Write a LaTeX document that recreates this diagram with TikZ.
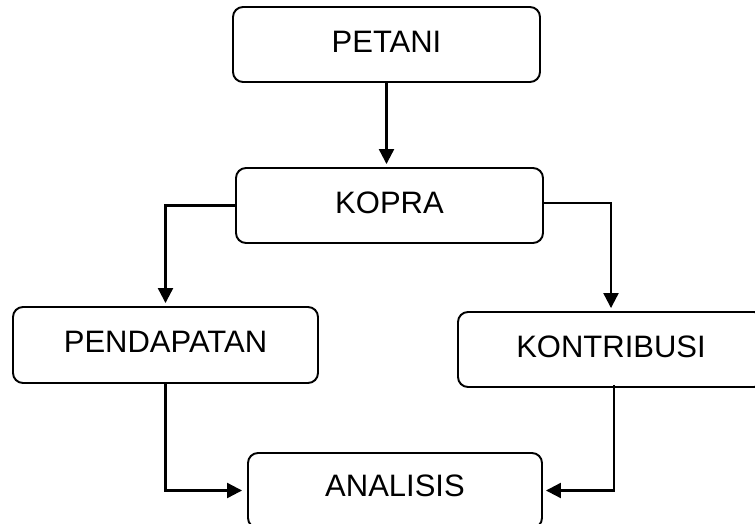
\documentclass[tikz,border=0pt]{standalone}
\usepackage{fontspec}
\setmainfont{Liberation Sans}
\usetikzlibrary{arrows.meta}
\begin{document}
\begin{tikzpicture}[x=1pt,y=-1pt,
  box/.style={draw, line width=1.9pt, rounded corners=10pt, minimum height=75pt,
    inner sep=0pt, text depth=6pt, font=\fontsize{31}{36}\selectfont},
  conn/.style={line width=2.2pt, -{Triangle[length=15pt,width=15pt]}, shorten >=3pt}]
\useasboundingbox (0,0) rectangle (755,524);
\clip (0,0) rectangle (755,524);
\node[box, minimum width=307pt] (petani) at (386.5,44.5) {PETANI};
\node[box, minimum width=307pt] (kopra) at (389.5,205.5) {KOPRA};
\node[box, minimum width=305pt, minimum height=76pt] (pendapatan) at (165.5,345) {PENDAPATAN};
\node[box, minimum width=306pt] (kontribusi) at (611,349.5) {KONTRIBUSI};
\node[box, minimum width=294pt, text depth=10pt] (analisis) at (395,490.5) {ANALISIS};
\draw[conn] (petani.south) -- (petani.south |- kopra.north);
\draw[conn] (kopra.west) -| (pendapatan.north);
\draw[conn] ([yshift=2.5pt]kopra.east) -| (kontribusi.north);
\draw[conn, shorten >=5pt] (pendapatan.south) |- (analisis.west);
\draw[conn] ([xshift=3pt,yshift=3pt]kontribusi.south) |- (analisis.east);
\end{tikzpicture}
\end{document}
